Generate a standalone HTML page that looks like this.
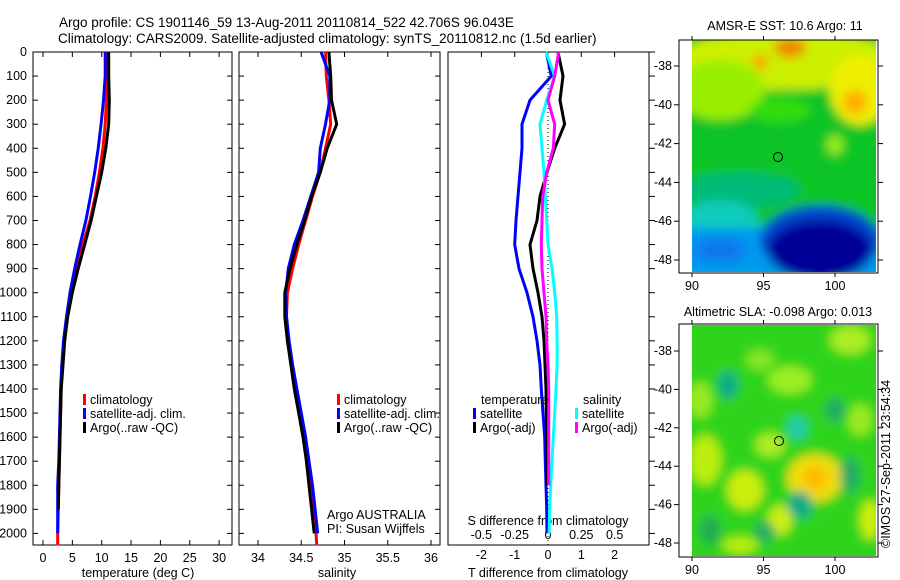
<!DOCTYPE html>
<html><head><meta charset="utf-8"><style>
body{margin:0;background:#fff;}
svg{display:block;font-family:"Liberation Sans",sans-serif;}
text{font-size:12.5px;fill:#000;}
</style></head><body>
<svg id="fig" width="900" height="580" viewBox="0 0 900 580" xmlns="http://www.w3.org/2000/svg">
<defs>
<filter id="bl" x="-10%" y="-10%" width="120%" height="120%"><feGaussianBlur stdDeviation="5"/></filter>
<clipPath id="c1"><rect x="692" y="40" width="184" height="232"/></clipPath>
<clipPath id="c2"><rect x="692" y="325" width="184" height="231"/></clipPath>
</defs>
<text x="59" y="27" style="font-size:13.5px">Argo profile: CS 1901146_59 13-Aug-2011 20110814_522 42.706S 96.043E</text>
<text x="58" y="43" style="font-size:13.5px">Climatology: CARS2009. Satellite-adjusted climatology: synTS_20110812.nc (1.5d earlier)</text>

<g>
<text x="785" y="30" text-anchor="middle">AMSR-E SST: 10.6 Argo: 11</text>
<g clip-path="url(#c1)"><g filter="url(#bl)">
<rect x="680" y="30" width="210" height="250" fill="#11c425"/>
<ellipse cx="785" cy="60" rx="110" ry="30" fill="#ccf000"/>
<ellipse cx="720" cy="90" rx="45" ry="30" fill="#99ee00"/>
<ellipse cx="860" cy="90" rx="30" ry="35" fill="#eef000"/>
<ellipse cx="790" cy="48" rx="16" ry="10" fill="#ee8800"/>
<ellipse cx="760" cy="62" rx="7" ry="8" fill="#ff9900"/>
<ellipse cx="855" cy="102" rx="12" ry="12" fill="#ffaa00"/>
<ellipse cx="835" cy="145" rx="8" ry="10" fill="#99ee22"/>
<ellipse cx="780" cy="110" rx="30" ry="12" fill="#33dd11"/>
<ellipse cx="740" cy="190" rx="60" ry="18" fill="#00bb77"/>
<ellipse cx="720" cy="225" rx="40" ry="25" fill="#11ccbb"/>
<rect x="680" y="228" width="210" height="50" fill="#0099ee"/>
<ellipse cx="820" cy="240" rx="60" ry="35" fill="#0044cc"/>
<ellipse cx="820" cy="250" rx="52" ry="30" fill="#000099"/>
<ellipse cx="720" cy="250" rx="25" ry="12" fill="#1177ee"/>
</g>
<circle cx="778" cy="157" r="4.5" fill="none" stroke="#000" stroke-width="1"/>
</g>
</g>

<g>
<text x="778" y="316" text-anchor="middle">Altimetric SLA: -0.098 Argo: 0.013</text>
<g clip-path="url(#c2)"><g filter="url(#bl)">
<rect x="680" y="315" width="210" height="250" fill="#2fd41c"/>
<ellipse cx="705" cy="460" rx="16" ry="25" fill="#bbee11"/>
<ellipse cx="745" cy="490" rx="18" ry="20" fill="#ccee11"/>
<ellipse cx="815" cy="478" rx="28" ry="24" fill="#eedd11"/>
<ellipse cx="815" cy="478" rx="12" ry="12" fill="#ffbb00"/>
<ellipse cx="790" cy="380" rx="22" ry="14" fill="#99ee22"/>
<ellipse cx="850" cy="340" rx="20" ry="14" fill="#aaee22"/>
<ellipse cx="760" cy="360" rx="14" ry="10" fill="#88e622"/>
<ellipse cx="700" cy="400" rx="12" ry="18" fill="#99ea22"/>
<ellipse cx="770" cy="445" rx="15" ry="12" fill="#aaee22"/>
<ellipse cx="860" cy="420" rx="12" ry="16" fill="#99ea22"/>
<ellipse cx="780" cy="520" rx="12" ry="15" fill="#ccee11"/>
<ellipse cx="870" cy="520" rx="10" ry="20" fill="#ccee11"/>
<ellipse cx="740" cy="545" rx="18" ry="8" fill="#bbee11"/>
<ellipse cx="728" cy="385" rx="10" ry="14" fill="#11aa88"/>
<ellipse cx="797" cy="428" rx="10" ry="12" fill="#22ccaa"/>
<ellipse cx="800" cy="505" rx="12" ry="14" fill="#11aa88"/>
<ellipse cx="765" cy="532" rx="10" ry="10" fill="#22aa66"/>
<ellipse cx="850" cy="475" rx="10" ry="18" fill="#22aa66"/>
<ellipse cx="710" cy="530" rx="10" ry="15" fill="#22aa55"/>
<ellipse cx="835" cy="410" rx="10" ry="12" fill="#22aa66"/>
</g>
<circle cx="779" cy="441" r="4.5" fill="none" stroke="#000" stroke-width="1"/>
</g>
</g>
<text transform="translate(890,548) rotate(-90)">©IMOS 27-Sep-2011 23:54:34</text>
<g id="plots"></g>
</svg>
<script>
const depths=[0,100,200,300,400,500,600,700,800,900,1000,1100,1200,1300,1400,1500,1600,1700,1800,1900,2000,2050];
const tClim=[10.9,10.9,10.8,10.6,10.2,9.6,8.9,8.0,6.8,5.7,4.8,4.1,3.6,3.3,3.1,3.0,2.9,2.8,2.7,2.6,2.5,2.5];
const tSat=[10.6,10.6,10.3,9.9,9.4,8.8,8.1,7.3,6.3,5.4,4.6,4.0,3.5,3.2,3.0,2.9,2.8,2.7,2.5,2.5,2.5];
const tArgo=[11.2,11.2,11.3,11.2,10.7,10.0,9.1,8.2,7.1,6.0,5.0,4.2,3.7,3.4,3.1,3.0,2.9,2.8,2.7,2.6];
const sClim=[34.78,34.79,34.82,34.84,34.78,34.72,34.63,34.55,34.47,34.40,34.34,34.33,34.35,34.39,34.43,34.48,34.53,34.57,34.61,34.64,34.67,34.68];
const sSat=[34.73,34.83,34.83,34.78,34.72,34.70,34.61,34.52,34.42,34.35,34.32,34.33,34.36,34.40,34.45,34.50,34.55,34.59,34.63,34.66,34.69];
const sArgo=[34.82,34.84,34.85,34.91,34.80,34.72,34.62,34.54,34.45,34.37,34.31,34.31,34.34,34.38,34.42,34.47,34.52,34.56,34.59,34.62,34.65];
const dTSat=[-0.05,0.1,-0.54,-0.78,-0.78,-0.84,-0.9,-0.96,-1.0,-0.87,-0.63,-0.45,-0.33,-0.24,-0.2,-0.15,-0.1,-0.08,-0.06,-0.04,-0.03];
const dTArgo=[0.3,0.45,0.36,0.5,0.2,-0.03,-0.24,-0.33,-0.54,-0.45,-0.3,-0.18,-0.12,-0.09,-0.06,-0.05,-0.04,-0.03,-0.03];
const dSSat=[-0.015,0.05,-0.01,-0.06,-0.045,-0.03,-0.02,-0.01,0,0.03,0.05,0.065,0.068,0.068,0.06,0.05,0.04,0.03,0.02,0.012,0.008];
const dSArgo=[0.08,0.05,0,0.05,0.04,-0.01,-0.04,-0.045,-0.05,-0.045,-0.03,-0.015,-0.01,0,0.005,0.005,0.005,0.005,0.005];
const depthTicks=[0,100,200,300,400,500,600,700,800,900,1000,1100,1200,1300,1400,1500,1600,1700,1800,1900,2000];
const tTicks=[0,5,10,15,20,25,30];
const sTicks=[34,34.5,35,35.5,36];
const dTTicks=[-2,-1,0,1,2];
const dSTicks=[-0.5,-0.25,0,0.25,0.5];
const sstLat=[-38,-40,-42,-44,-46,-48], lonTicks=[90,95,100];

const NS="http://www.w3.org/2000/svg";
const root=document.getElementById('plots');
function el(tag,attrs,parent,txt){const e=document.createElementNS(NS,tag);for(const k in attrs)e.setAttribute(k,attrs[k]);if(txt!==undefined)e.textContent=txt;(parent||root).appendChild(e);return e;}
const TOP=52,BOT=545;
const yD=d=>TOP+d*0.2407;
const xT=t=>43+t*5.87;
const xS=s=>258+(s-34)*86.5;
const xDT=t=>548+t*33.3;
const xDS=s=>548+s*133.3;

function stepPath(vals,xf){let p='';for(let i=0;i<vals.length;i++){const x=xf(vals[i]).toFixed(1),y=yD(depths[i]).toFixed(1);p+=(i?'L':'M')+x+','+y;}return p;}
function line(vals,xf,col,name,g){const e=el('path',{d:stepPath(vals,xf),fill:'none',stroke:col,'stroke-width':3,'stroke-linejoin':'round'},g);

}

function frame(x0,x1,g,leftLabels,rightTicks){
 const r=el('rect',{x:x0,y:TOP,width:x1-x0,height:BOT-TOP,fill:'none',stroke:'#000','stroke-width':1},g);
 
 
 depthTicks.forEach(d=>{const y=yD(d);
  el('line',{x1:x0,x2:x0+5,y1:y,y2:y,stroke:'#000'},g);
  if(rightTicks)el('line',{x1:x1,x2:x1-5,y1:y,y2:y,stroke:'#000'},g);
  if(leftLabels){const t=el('text',{x:x0-6,y:y+4,'text-anchor':'end'},g,String(d));
   
   }
 });
}
const g1=el('g',{});
frame(33,232,g1,true,true);
tTicks.forEach(t=>{const x=xT(t);el('line',{x1:x,x2:x,y1:TOP,y2:TOP+5,stroke:'#000'},g1);el('line',{x1:x,x2:x,y1:BOT,y2:BOT-5,stroke:'#000'},g1);
 const l=el('text',{x:x,y:BOT+17,'text-anchor':'middle'},g1,String(t));
 
 });
const xl1=el('text',{x:138,y:577,'text-anchor':'middle'},g1,'temperature (deg C)');

line(tClim,xT,'#ff0000','temperature-climatology-line',g1);
line(tSat,xT,'#0000ff','temperature-satellite-line',g1);
line(tArgo,xT,'#000000','temperature-argo-line',g1);

const g2=el('g',{});
frame(239,440,g2,false,true);
sTicks.forEach(s=>{const x=xS(s);el('line',{x1:x,x2:x,y1:TOP,y2:TOP+5,stroke:'#000'},g2);el('line',{x1:x,x2:x,y1:BOT,y2:BOT-5,stroke:'#000'},g2);
 const l=el('text',{x:x,y:BOT+17,'text-anchor':'middle'},g2,String(s));
 
 });
const xl2=el('text',{x:337,y:577,'text-anchor':'middle'},g2,'salinity');

line(sClim,xS,'#ff0000','salinity-climatology-line',g2);
line(sSat,xS,'#0000ff','salinity-satellite-line',g2);
line(sArgo,xS,'#000000','salinity-argo-line',g2);

function legend(items,x,y,g,name){items.forEach((it,i)=>{const yy=y+i*14;
 const m=el('rect',{x:x,y:yy-10,width:3,height:11,fill:it[1]},g);
 
 const t=el('text',{x:x+7,y:yy},g,it[0]);
 });}
const leg=[['climatology','#ff0000'],['satellite-adj. clim.','#0000ff'],['Argo(..raw -QC)','#000']];
legend(leg,83,404,g1,'temperature-legend');
legend(leg,337,404,g2,'salinity-legend');
const a1=el('text',{x:327,y:519},g2,'Argo AUSTRALIA');
const a2=el('text',{x:327,y:533},g2,'PI: Susan Wijffels');

const g3=el('g',{});
const r3=el('rect',{x:448,y:TOP,width:201,height:BOT-TOP,fill:'none',stroke:'#000'},g3);

depthTicks.forEach(d=>{const y=yD(d);el('line',{x1:649,x2:655,y1:y,y2:y,stroke:'#000'},g3);});
dTTicks.forEach(t=>{const x=xDT(t);el('line',{x1:x,x2:x,y1:TOP,y2:TOP+5,stroke:'#000'},g3);
 const l=el('text',{x:x,y:559,'text-anchor':'middle'},g3,String(t));
 });
dSTicks.forEach(s=>{const x=xDS(s);
 const l=el('text',{x:x,y:539,'text-anchor':'middle'},g3,String(s));
 });
el('line',{x1:xDT(0),x2:xDT(0),y1:TOP,y2:BOT,stroke:'#000','stroke-dasharray':'1,3'},g3);
const s3=el('text',{x:548,y:525,'text-anchor':'middle'},g3,'S difference from climatology');

const t3=el('text',{x:548,y:577,'text-anchor':'middle'},g3,'T difference from climatology');

line(dTSat,xDT,'#0000ff','t-diff-satellite-line',g3);
line(dTArgo,xDT,'#000000','t-diff-argo-line',g3);
line(dSSat,xDS,'#00ffff','s-diff-satellite-line',g3);
line(dSArgo,xDS,'#ff00ff','s-diff-argo-line',g3);
const lt=el('text',{x:481,y:404},g3,'temperature');
const ls=el('text',{x:583,y:404},g3,'salinity');
legend([['satellite','#0000ff'],['Argo(-adj)','#000']],473,418,g3,'t-diff-legend');
legend([['satellite','#00ffff'],['Argo(-adj)','#ff00ff']],575,418,g3,'s-diff-legend');

function mapAxes(top,bot,y38,y48,name){
 const g=el('g',{});
 const r=el('rect',{x:679,y:top,width:199,height:bot-top,fill:'none',stroke:'#000'},g);
 
 const yl=v=>y38+(v+38)/(-10)*(y48-y38);
 sstLat.forEach(v=>{const y=yl(v);el('line',{x1:679,x2:674,y1:y,y2:y,stroke:'#000'},g);el('line',{x1:878,x2:883,y1:y,y2:y,stroke:'#000'},g);
  const t=el('text',{x:672,y:y+4,'text-anchor':'end'},g,String(v));
  });
 lonTicks.forEach(v=>{const x=692+(v-90)*14.3;el('line',{x1:x,x2:x,y1:top,y2:top-4,stroke:'#000'},g);el('line',{x1:x,x2:x,y1:bot,y2:bot+4,stroke:'#000'},g);
  const t=el('text',{x:x,y:bot+17,'text-anchor':'middle'},g,String(v));
  });
}
mapAxes(40,273,66,260,'sst-map');
mapAxes(324,557,351,543,'sla-map');
</script>
</body></html>
